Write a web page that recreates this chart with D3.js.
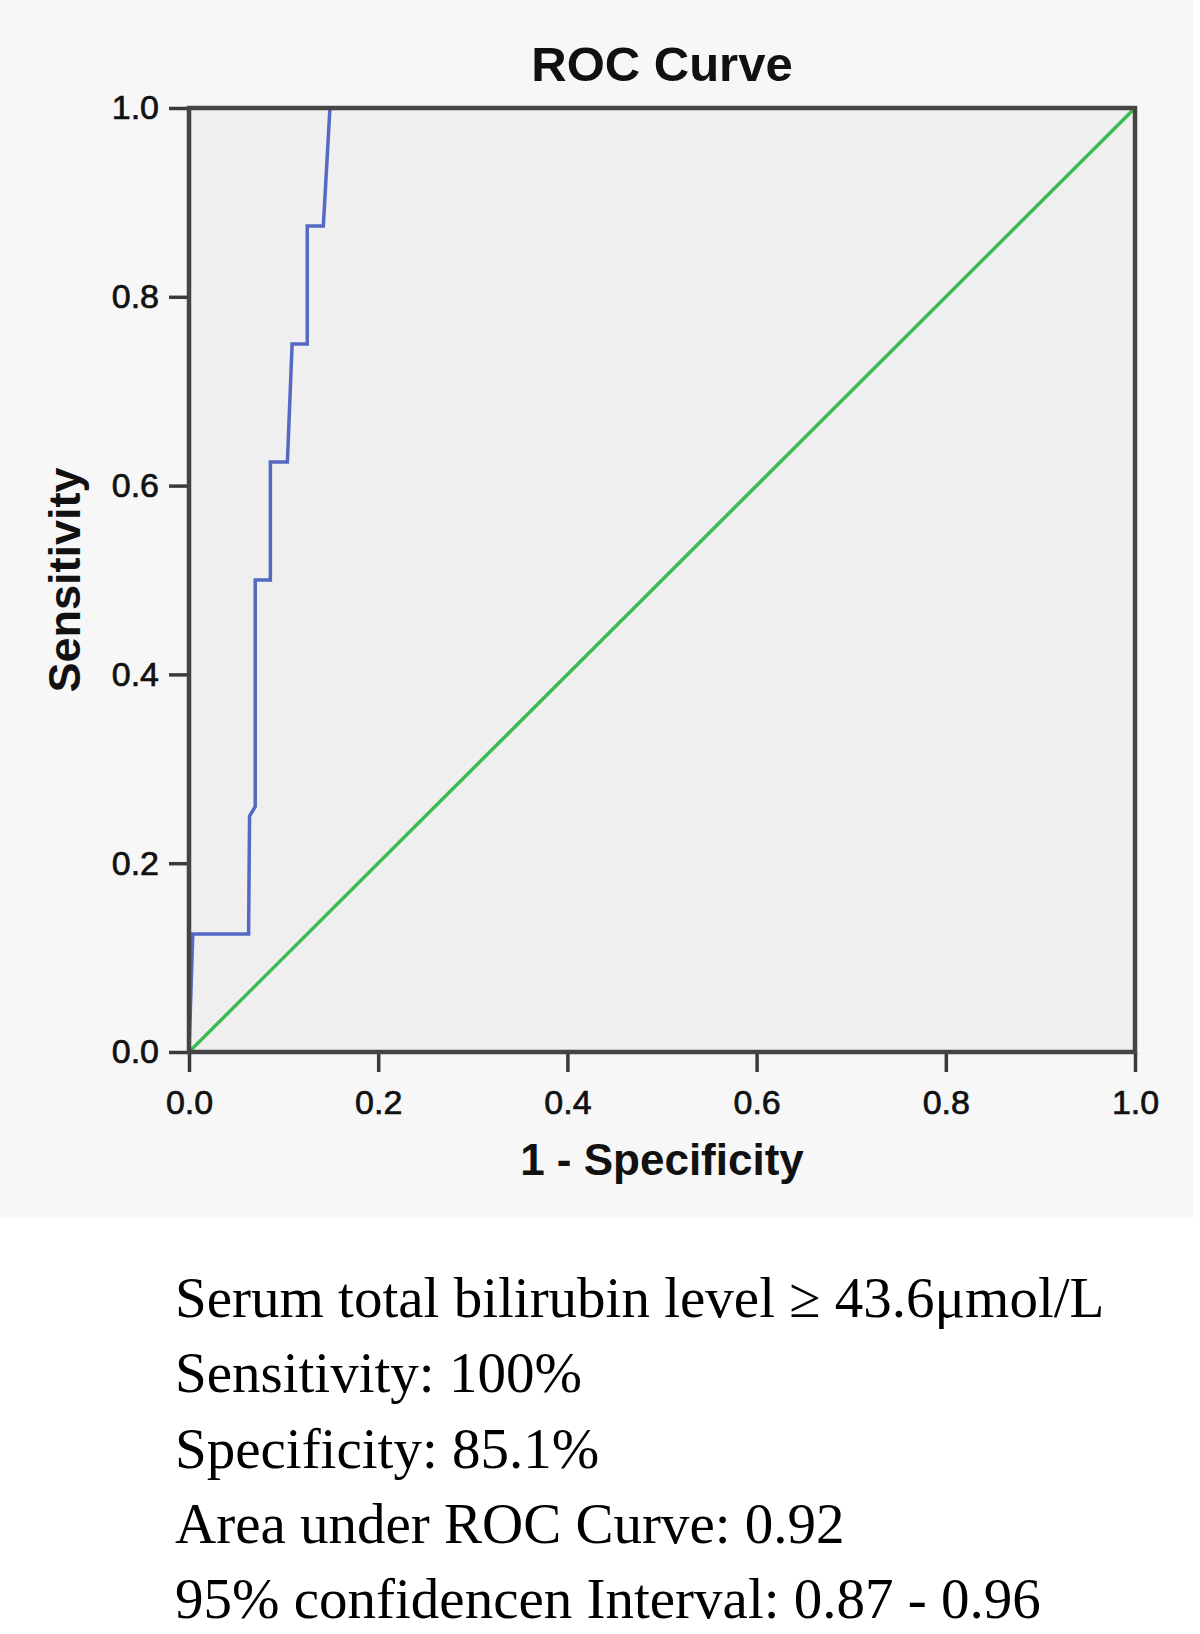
<!DOCTYPE html>
<html>
<head>
<meta charset="utf-8">
<style>
body { margin: 0; background: #ffffff; }
svg { display: block; }
</style>
</head>
<body>
<svg id="roc" width="1200" height="1634"></svg>
<script src="https://cdn.jsdelivr.net/npm/d3@7/dist/d3.min.js"></script>
<script>
// ROC curve points (1 - specificity, sensitivity)
var fpr = [0, 0.004, 0.063, 0.064, 0.070, 0.070, 0.086, 0.086, 0.104, 0.109, 0.125, 0.125, 0.142, 0.149, 1];
var tpr = [0, 0.125, 0.125, 0.25, 0.26, 0.5, 0.5, 0.625, 0.625, 0.75, 0.75, 0.875, 0.875, 1, 1];
var refLine = [0, 1];
var tickValues = [0, 0.2, 0.4, 0.6, 0.8, 1.0];

var title = "ROC Curve";
var xTitle = "1 - Specificity";
var yTitle = "Sensitivity";
var notes = [
  "Serum total bilirubin level \u2265 43.6\u03bcmol/L",
  "Sensitivity: 100%",
  "Specificity: 85.1%",
  "Area under ROC Curve: 0.92",
  "95% confidencen Interval: 0.87 - 0.96"
];

var svg = d3.select("#roc");
var sans = "'Liberation Sans', Arial, sans-serif";

var plotL = 189, plotR = 1135, plotT = 108, plotB = 1052;
var x = d3.scaleLinear().domain([0, 1]).range([plotL, plotR]);
var y = d3.scaleLinear().domain([0, 1]).range([plotB, plotT]);

// panel background
svg.append("rect").attr("x", 0).attr("y", 0)
  .attr("width", 1193).attr("height", 1218)
  .attr("fill", "#f7f7f7");

svg.append("rect")
  .attr("x", plotL).attr("y", plotT)
  .attr("width", plotR - plotL).attr("height", plotB - plotT)
  .attr("fill", "#efefef");

// reference diagonal
svg.append("line")
  .attr("x1", x(refLine[0])).attr("y1", y(refLine[0]))
  .attr("x2", x(refLine[1])).attr("y2", y(refLine[1]))
  .attr("stroke", "#3cba56").attr("stroke-width", 3.5);

// ROC curve
var pts = fpr.map(function(d, i) { return [d, tpr[i]]; });
var line = d3.line().x(function(d) { return x(d[0]); }).y(function(d) { return y(d[1]); });
svg.append("path")
  .attr("d", line(pts))
  .attr("fill", "none")
  .attr("stroke", "#5568c4")
  .attr("stroke-width", 3.5);

// axes
var xAxis = d3.axisBottom(x).tickValues(tickValues).tickFormat(d3.format(".1f"))
  .tickSize(20).tickSizeOuter(0).tickPadding(11);
var yAxis = d3.axisLeft(y).tickValues(tickValues).tickFormat(d3.format(".1f"))
  .tickSize(20).tickSizeOuter(0).tickPadding(10);

var gx = svg.append("g").attr("transform", "translate(0," + plotB + ")").call(xAxis);
var gy = svg.append("g").attr("transform", "translate(" + plotL + ",0)").call(yAxis);

[gx, gy].forEach(function(g) {
  g.select(".domain").remove();
  g.selectAll(".tick line").attr("stroke", "#3a3a3a").attr("stroke-width", 3.5);
  g.selectAll(".tick text")
    .attr("fill", "#111")
    .attr("stroke", "#111")
    .attr("stroke-width", 0.7)
    .style("font-family", sans)
    .style("font-size", "34px");
});
gx.selectAll(".tick text").attr("dy", "0.9em");

// frame
svg.append("rect")
  .attr("x", plotL).attr("y", plotT)
  .attr("width", plotR - plotL).attr("height", plotB - plotT)
  .attr("fill", "none")
  .attr("stroke", "#444")
  .attr("stroke-width", 4.5);

// titles
svg.append("text")
  .attr("x", (plotL + plotR) / 2).attr("y", 81)
  .attr("text-anchor", "middle")
  .style("font-family", sans).style("font-size", "49px").style("font-weight", "bold")
  .attr("fill", "#111")
  .text(title);

svg.append("text")
  .attr("x", (plotL + plotR) / 2).attr("y", 1175)
  .attr("text-anchor", "middle")
  .style("font-family", sans).style("font-size", "44px").style("font-weight", "bold")
  .attr("fill", "#111")
  .text(xTitle);

svg.append("text")
  .attr("transform", "translate(80," + ((plotT + plotB) / 2) + ") rotate(-90)")
  .attr("text-anchor", "middle")
  .style("font-family", sans).style("font-size", "45px").style("font-weight", "bold")
  .attr("fill", "#111")
  .text(yTitle);

// notes below the chart
svg.append("g").selectAll("text")
  .data(notes)
  .join("text")
  .attr("x", 175)
  .attr("y", function(d, i) { return 1317 + i * 75.3; })
  .style("font-family", "'Liberation Serif', 'Times New Roman', serif")
  .style("font-size", "57px")
  .attr("fill", "#000")
  .text(function(d) { return d; });
</script>
</body>
</html>
